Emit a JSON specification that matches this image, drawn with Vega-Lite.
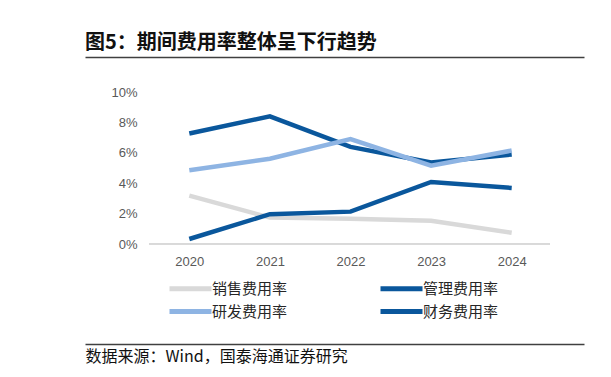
{
  "$schema": "https://vega.github.io/schema/vega-lite/v6.json",
  "autosize": {"type": "none"},
  "padding": {"left": 85, "top": 92, "right": 27, "bottom": 133},
  "width": 499,
  "height": 152,
  "background": "#ffffff",
  "config": {
    "view": {"stroke": null},
    "axis": {"labelFont": "Liberation Sans", "labelFontSize": 13, "labelColor": "#595959"}
  },
  "title": {
    "text": "图5：期间费用率整体呈下行趋势",
    "anchor": "start",
    "frame": "group",
    "font": "Noto Sans CJK SC",
    "fontSize": 20,
    "fontWeight": "bold",
    "color": "#111111",
    "offset": 4
  },
  "data": {
    "values": [
      {"year": 2020, "series": "销售费用率", "value": 0.0318},
      {"year": 2021, "series": "销售费用率", "value": 0.0174},
      {"year": 2022, "series": "销售费用率", "value": 0.0166},
      {"year": 2023, "series": "销售费用率", "value": 0.0153},
      {"year": 2024, "series": "销售费用率", "value": 0.0074},
      {"year": 2020, "series": "管理费用率", "value": 0.0727},
      {"year": 2021, "series": "管理费用率", "value": 0.084},
      {"year": 2022, "series": "管理费用率", "value": 0.0639},
      {"year": 2023, "series": "管理费用率", "value": 0.0537},
      {"year": 2024, "series": "管理费用率", "value": 0.0589},
      {"year": 2020, "series": "研发费用率", "value": 0.0485},
      {"year": 2021, "series": "研发费用率", "value": 0.0561},
      {"year": 2022, "series": "研发费用率", "value": 0.069},
      {"year": 2023, "series": "研发费用率", "value": 0.0515},
      {"year": 2024, "series": "研发费用率", "value": 0.0615},
      {"year": 2020, "series": "财务费用率", "value": 0.0033},
      {"year": 2021, "series": "财务费用率", "value": 0.0196},
      {"year": 2022, "series": "财务费用率", "value": 0.0213},
      {"year": 2023, "series": "财务费用率", "value": 0.0408},
      {"year": 2024, "series": "财务费用率", "value": 0.0369}
    ]
  },
  "resolve": {"axis": {"x": "independent", "y": "independent"}},
  "layer": [
    {
      "mark": {"type": "line", "strokeWidth": 4.5, "strokeCap": "butt", "strokeJoin": "miter"},
      "encoding": {
        "x": {"field": "year", "type": "quantitative", "scale": {"domain": [2018.706, 2024.897], "nice": false, "zero": false},
          "axis": {"orient": "bottom", "values": [2020, 2021, 2022, 2023, 2024], "format": "d", "domain": false, "ticks": false, "grid": false, "labelPadding": 11, "title": null}},
        "y": {"field": "value", "type": "quantitative", "scale": {"domain": [0, 0.1], "nice": false},
          "axis": {"orient": "left", "offset": -55, "values": [0, 0.02, 0.04, 0.06, 0.08, 0.1], "format": ".0%", "domain": false, "ticks": false, "grid": false, "labelPadding": 3, "title": null}},
        "color": {"field": "series", "type": "nominal", "sort": ["销售费用率", "管理费用率", "研发费用率", "财务费用率"],
          "scale": {"domain": ["销售费用率", "管理费用率", "研发费用率", "财务费用率"], "range": ["#d9d9d9", "#0a579c", "#8eb4e3", "#0a579c"]},
          "legend": {"orient": "none", "legendX": 96, "legendY": 187, "columns": 2, "direction": "horizontal", "title": null,
            "symbolType": "M-3,0H3", "symbolSize": 196, "symbolStrokeWidth": 5, "rowPadding": 2, "columnPadding": 82,
            "labelFont": "Noto Sans CJK SC", "labelFontSize": 15, "labelColor": "#262626", "labelOffset": 12}}
      }
    },
    {
      "mark": {"type": "rule", "color": "#d9d9d9", "strokeWidth": 1},
      "encoding": {
        "x": {"datum": 2019.5, "type": "quantitative", "scale": {"domain": [2018.706, 2024.897], "nice": false, "zero": false},
          "axis": {"orient": "top", "offset": 35, "domain": true, "domainColor": "#404040", "domainWidth": 1.3, "labels": false, "ticks": false, "grid": false, "title": null}},
        "x2": {"datum": 2024.475},
        "y": {"datum": 0, "type": "quantitative", "scale": {"domain": [0, 0.1], "nice": false}, "axis": null}
      }
    },
    {
      "mark": {"type": "rule", "color": "#d9d9d9", "strokeWidth": 1},
      "encoding": {
        "x": {"datum": 2019.5, "type": "quantitative", "scale": {"domain": [2018.706, 2024.897], "nice": false, "zero": false},
          "axis": {"orient": "bottom", "offset": 100, "domain": true, "domainColor": "#404040", "domainWidth": 1.3, "labels": false, "ticks": false, "grid": false,
            "title": "数据来源：Wind，国泰海通证券研究", "titleAnchor": "start", "titleAlign": "left", "titleFont": "Noto Sans CJK SC", "titleFontSize": 16, "titleFontWeight": "normal", "titleColor": "#111111", "titlePadding": 4}},
        "x2": {"datum": 2024.475},
        "y": {"datum": 0, "type": "quantitative", "scale": {"domain": [0, 0.1], "nice": false}, "axis": null}
      }
    }
  ]
}
